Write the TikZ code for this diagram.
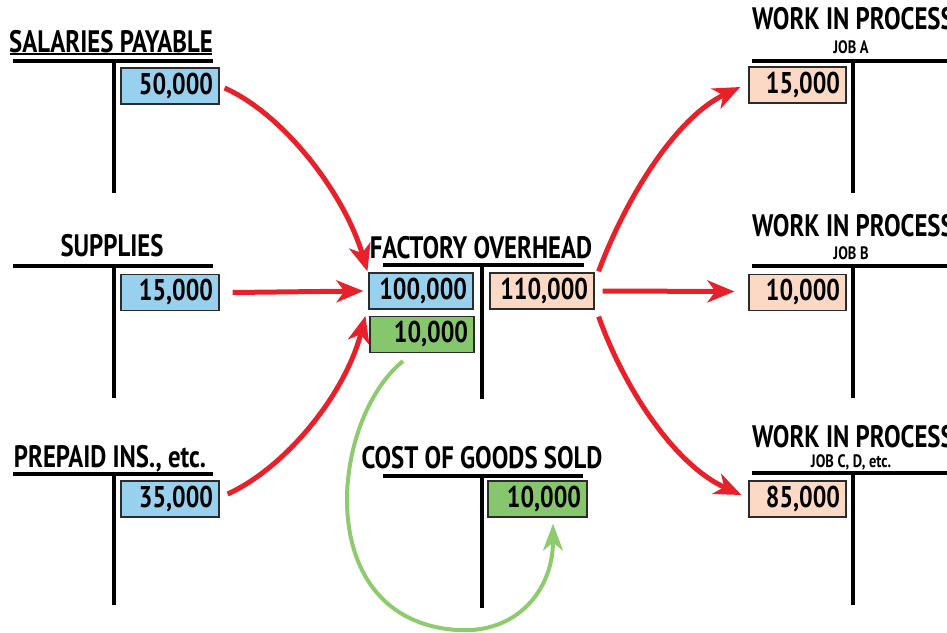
\documentclass[tikz,border=0pt]{standalone}
\usepackage{fontspec}
\setmainfont{PT Sans}[FakeStretch=0.8]
\usetikzlibrary{arrows.meta,calc}
\definecolor{bluebox}{HTML}{97D1EE}
\definecolor{peachbox}{HTML}{FCD9C4}
\definecolor{greenbox}{HTML}{86C66C}
\definecolor{boxline}{HTML}{2B2B2B}
\definecolor{arrred}{HTML}{E8202A}
\definecolor{arrgreen}{HTML}{8DCB6E}
\tikzset{
  tbar/.style={line width=4pt},
  title/.style={font=\bfseries\fontsize{31}{33}\selectfont, anchor=base, inner sep=0pt},
  subtitle/.style={font=\bfseries\fontsize{18}{20}\selectfont, anchor=base, inner sep=0pt},
  valbox/.style={draw=boxline, line width=1.2pt, minimum height=36pt, inner xsep=6pt, inner ysep=0pt,
    text width=#1, align=right, font=\bfseries\fontsize{30}{32}\selectfont},
  redarrow/.style={draw=arrred, line width=5pt, -{Stealth[length=27pt,width=22pt,inset=8pt]}},
  greenarrow/.style={draw=arrgreen, line width=4pt, -{Stealth[length=27pt,width=20pt,inset=8pt]}}
}
\begin{document}
\begin{tikzpicture}[x=1pt,y=-1pt]
\useasboundingbox (0,0) rectangle (947,632);

% ---------- left accounts ----------
\node[title] (salt) at (111,52) {SALARIES PAYABLE};
\draw[line width=1.5pt] (10,54) -- (212,54);
\draw[tbar] (13,61) -- (213,61);
\draw[tbar] (113.5,61) -- (113.5,193);
\node[valbox=86pt, fill=bluebox] (sal) at (170,86) {50,000};

\node[title] (supt) at (112,256) {SUPPLIES};
\draw[tbar] (13,266) -- (213,266);
\draw[tbar] (113.5,266) -- (113.5,398);
\node[valbox=86pt, fill=bluebox] (sup) at (170,292.5) {15,000};

\node[title] (pret) at (110,467) {PREPAID INS., etc.};
\draw[tbar] (13,474) -- (213,474);
\draw[tbar] (113.5,474) -- (113.5,605);
\node[valbox=86pt, fill=bluebox] (pre) at (170,499) {35,000};

% ---------- factory overhead ----------
\node[title] (fot) at (481,258) {FACTORY OVERHEAD};
\draw[tbar] (383,265) -- (584,265);
\draw[tbar] (482,265) -- (482,399);
\node[valbox=92pt, fill=bluebox] (fob) at (421,291) {100,000};
\node[valbox=92pt, fill=peachbox] (fop) at (542,291) {110,000};
\node[valbox=92pt, fill=greenbox] (fog) at (422,334.5) {10,000};

% ---------- cost of goods sold ----------
\node[title] (cgt) at (482,468) {COST OF GOODS SOLD};
\draw[tbar] (383,476) -- (583,476);
\draw[tbar] (482,476) -- (482,608);
\node[valbox=87pt, fill=greenbox] (cgs) at (537.5,499) {10,000};

% ---------- work in process ----------
\node[title, anchor=base west] (wat) at (752,29) {WORK IN PROCESS};
\node[subtitle] (was) at (851,53) {JOB A};
\draw[tbar] (752,61) -- (947,61);
\draw[tbar] (853,61) -- (853,193);
\node[valbox=85pt, fill=peachbox] (wia) at (797.5,85) {15,000};

\node[title, anchor=base west] (wbt) at (752,236) {WORK IN PROCESS};
\node[subtitle] (wbs) at (851,259) {JOB B};
\draw[tbar] (752,266) -- (947,266);
\draw[tbar] (853,266) -- (853,398);
\node[valbox=85pt, fill=peachbox] (wib) at (797.5,292.5) {10,000};

\node[title, anchor=base west] (wct) at (752,447) {WORK IN PROCESS};
\node[subtitle] (wcs) at (851,467) {JOB C, D, etc.};
\draw[tbar] (752,473) -- (947,473);
\draw[tbar] (853,473) -- (853,605);
\node[valbox=85pt, fill=peachbox] (wic) at (797.5,499) {85,000};

% ---------- arrows ----------
\draw[redarrow] ([shift={(5,2)}]sal.east) .. controls (285,115) and (345,195) .. ([shift={(-1,-1)}]fob.north west);
\draw[redarrow] ([shift={(13,0)}]sup.east) -- ([shift={(-5,0)}]fob.west);
\draw[redarrow] ([shift={(8,-5)}]pre.east) .. controls (285,468) and (345,395) .. ([shift={(-4,0)}]fog.north west);

\draw[redarrow] ([shift={(4,-1)}]fop.north east) .. controls (625,200) and (675,118) .. ([shift={(-8,2)}]wia.west);
\draw[redarrow] ([shift={(8,0)}]fop.east) -- ([shift={(-14,-1)}]wib.west);
\draw[redarrow] ([shift={(4,7)}]fop.south east) .. controls (625,390) and (675,465) .. ([shift={(-7,-4)}]wic.west);

\draw[greenarrow] ([shift={(-19,8)}]fog.south) .. controls (330,420) and (310,620) .. (457,630)
   .. controls (517,634) and (553,590) .. ([shift={(15.5,6)}]cgs.south);
\end{tikzpicture}
\end{document}
